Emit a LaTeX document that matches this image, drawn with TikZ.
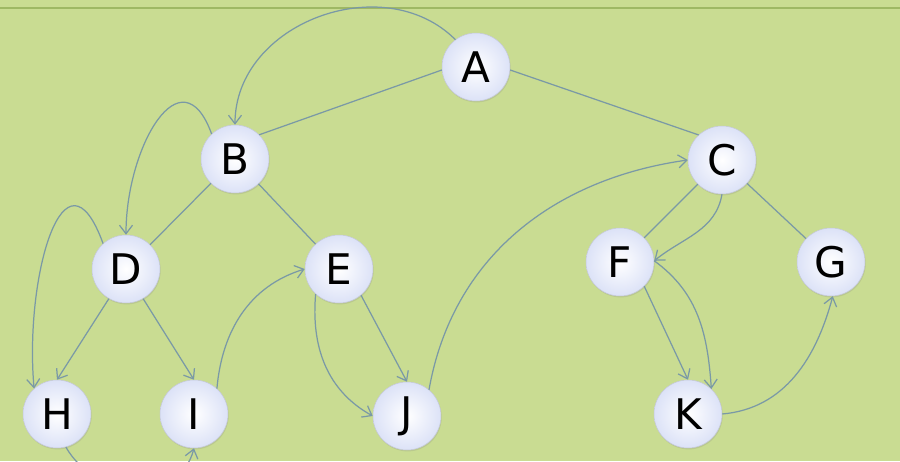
\documentclass[tikz,border=0pt]{standalone}
\usepackage{fontspec}
\setmainfont{DejaVu Sans}
\usetikzlibrary{arrows.meta,shadows}
\definecolor{fond}{RGB}{201,220,146}
\definecolor{filet}{RGB}{158,184,100}
\definecolor{arete}{RGB}{122,153,166}
\definecolor{boule}{RGB}{220,226,247}
\tikzset{sommet/.style={circle,minimum size=1.36cm,inner sep=0,draw=boule!75!gray,line width=0.3pt,
    inner color=white,outer color=boule,drop shadow={opacity=.2,shadow xshift=.4pt,shadow yshift=-.8pt},
    font=\fontsize{24}{28}\selectfont},
  arbre/.style={draw=arete,line width=0.7pt},
  parcours/.style={arbre,-{Straight Barb[length=1.7mm,width=2.6mm]}}}

\begin{document}
\begin{tikzpicture}[x=0.02cm,y=0.02cm]
\fill[fond](0,0)rectangle(900,461);
\clip(0,0)rectangle(900,461);
\draw[filet,line width=1.2pt](0,453)--(900,453);
% sommets
\node[sommet](A)at(476,394){A};
\node[sommet](B)at(235,302){B};
\node[sommet](C)at(722,301){C};
\node[sommet](D)at(126,192){D};
\node[sommet](E)at(339,192){E};
\node[sommet](F)at(620,199){F};
\node[sommet](G)at(831,199){G};
\node[sommet](H)at(57,47){H};
\node[sommet](I)at(194,47){I};
\node[sommet](J)at(407,45){J};
\node[sommet](K)at(688,47){K};
% arbre
\draw[arbre](A.185)--(B.45);
\draw[arbre](A.-5)--(C.133);
\draw[arbre](B)--(D);
\draw[arbre](B)--(E);
\draw[arbre](C)--(F);
\draw[arbre](C)--(G);
\draw[parcours](D.-120)--(H.north);
\draw[parcours](D.-60)--(I.north);
\draw[parcours](E.-50)--(J.north);
\draw[parcours](F.-45)--(K.north);
% parcours en profondeur
\draw[parcours](A.127)to[out=135,in=90,looseness=1.1](B.north);
\draw[parcours](B.133)to[out=110,in=90,looseness=1.7](D.north);
\draw[parcours](D.132)to[out=110,in=95,looseness=1.8](H.132);
\draw[parcours](H.-75)to[out=-60,in=-105,looseness=1.2](I.south);
\draw[parcours](I.48)to[out=85,in=197](E.west);
\draw[parcours](E.227)to[out=-95,in=151](J.180);
\draw[parcours](J.50)to[out=80,in=188](C.west);
\draw[parcours](C.-90)to[out=-100,in=39](F.2);
\draw[parcours](F.2)to[out=-36,in=94](K.47);
\draw[parcours](K.east)to[out=5,in=-105](G.-87);
\end{tikzpicture}
\end{document}
